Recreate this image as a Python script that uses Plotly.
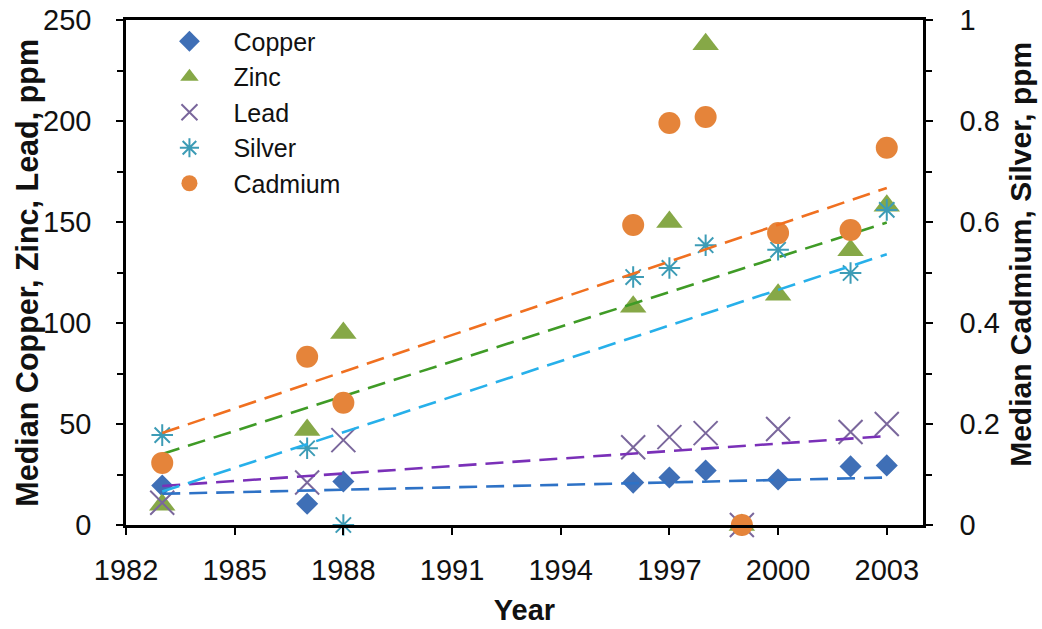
import numpy as np
import plotly.graph_objects as go

years = [1983, 1987, 1988, 1996, 1997, 1998, 1999, 2000, 2002, 2003]
copper = [19.5, 10.5, 21.5, 21, 23.5, 27, 0, 22.5, 29, 29.5]
zinc = [10, 47, 95, 108, 150, 238, 0, 114, 136, 158]
lead = [11, 21, 42, 38.5, 43.5, 45.5, 0, 47.5, 46, 50]
silver = [0.178, 0.152, 0, 0.491, 0.509, 0.554, 0, 0.545, 0.499, 0.624]
cadmium = [0.123, 0.333, 0.242, 0.594, 0.796, 0.808, 0, 0.578, 0.584, 0.747]

FONT = "Liberation Sans, Arial, sans-serif"
TXT = "#111"

series = [
    # name, values, axis, symbol, size, marker color, trend color
    ("Copper", copper, "y", "diamond", 17, "#3f6fb6", "#2e72c6"),
    ("Zinc", zinc, "y", "triangle-up", 23, "#86a847", "#3f9b26"),
    ("Lead", lead, "y", "x-thin-open", 24, "#7a679c", "#7a30b8"),
    ("Silver", silver, "y2", "asterisk-open", 18, "#3d9cb6", "#27b0ea"),
    ("Cadmium", cadmium, "y2", "circle", 22, "#e5843a", "#f07020"),
]

fig = go.Figure()

for name, vals, ax, sym, size, mcol, tcol in series:
    marker = dict(symbol=sym, size=size, color=mcol)
    if sym.endswith("-open"):
        marker["line"] = dict(color=mcol, width=2)
    else:
        marker["line"] = dict(width=0)
    fig.add_trace(go.Scatter(
        x=years, y=vals, mode="markers", name=name, yaxis=ax,
        marker=marker, cliponaxis=False,
    ))

# linear trend lines (least squares, as in the original spreadsheet)
for name, vals, ax, sym, size, mcol, tcol in series:
    slope, icpt = np.polyfit(years, vals, 1)
    xs = [min(years), max(years)]
    ys = [slope * x + icpt for x in xs]
    fig.add_trace(go.Scatter(
        x=xs, y=ys, mode="lines", yaxis=ax, showlegend=False,
        line=dict(color=tcol, width=2.6, dash="18px,9px"),
        hoverinfo="skip",
    ))

axis_common = dict(
    showline=True, linecolor="black", linewidth=2.5,
    ticks="outside", tickcolor="black", tickwidth=2, ticklen=7,
    showgrid=False, zeroline=False, automargin=False,
    tickfont=dict(family=FONT, size=29, color=TXT),
)

fig.update_layout(
    width=1042, height=629,
    margin=dict(l=126, r=119, t=20, b=104, autoexpand=False),
    paper_bgcolor="white", plot_bgcolor="white",
    font=dict(family=FONT, color=TXT),
    showlegend=True,
    legend=dict(
        x=0.0244, y=1.003, xanchor="left", yanchor="top",
        bgcolor="rgba(0,0,0,0)", font=dict(family=FONT, size=25, color=TXT),
        itemsizing="trace", tracegroupgap=0, itemwidth=78,
    ),
    xaxis=dict(
        **axis_common,
        range=[1982, 2004], tick0=1982, dtick=3, mirror=True,
        ticklabelstandoff=10,
        title=dict(text="<b>Year</b>", font=dict(family=FONT, size=29, color=TXT), standoff=16),
    ),
    yaxis=dict(
        **axis_common,
        range=[0, 250], dtick=50,
        minor=dict(dtick=25, ticks="outside", ticklen=6, tickcolor="black", tickwidth=2),
        ticklabelstandoff=19,
    ),
    yaxis2=dict(
        **axis_common,
        range=[0, 1], dtick=0.2, overlaying="y", side="right",
        minor=dict(dtick=0.1, ticks="outside", ticklen=6, tickcolor="black", tickwidth=2),
        ticklabelstandoff=21,
    ),
    annotations=[
        dict(text="<b>Median Copper, Zinc, Lead, ppm</b>", textangle=-90,
             xref="paper", yref="paper", x=-0.124, y=0.5,
             xanchor="center", yanchor="middle", showarrow=False,
             font=dict(family=FONT, size=30.5, color=TXT)),
        dict(text="<b>Median Cadmium, Silver, ppm</b>", textangle=-90,
             xref="paper", yref="paper", x=1.123, y=0.535,
             xanchor="center", yanchor="middle", showarrow=False,
             font=dict(family=FONT, size=30, color=TXT)),
    ],
)

fig.write_html(
    "out.html",
    config={"displayModeBar": False},
    post_script="document.body.style.margin='0';document.body.style.overflow='hidden';",
)
